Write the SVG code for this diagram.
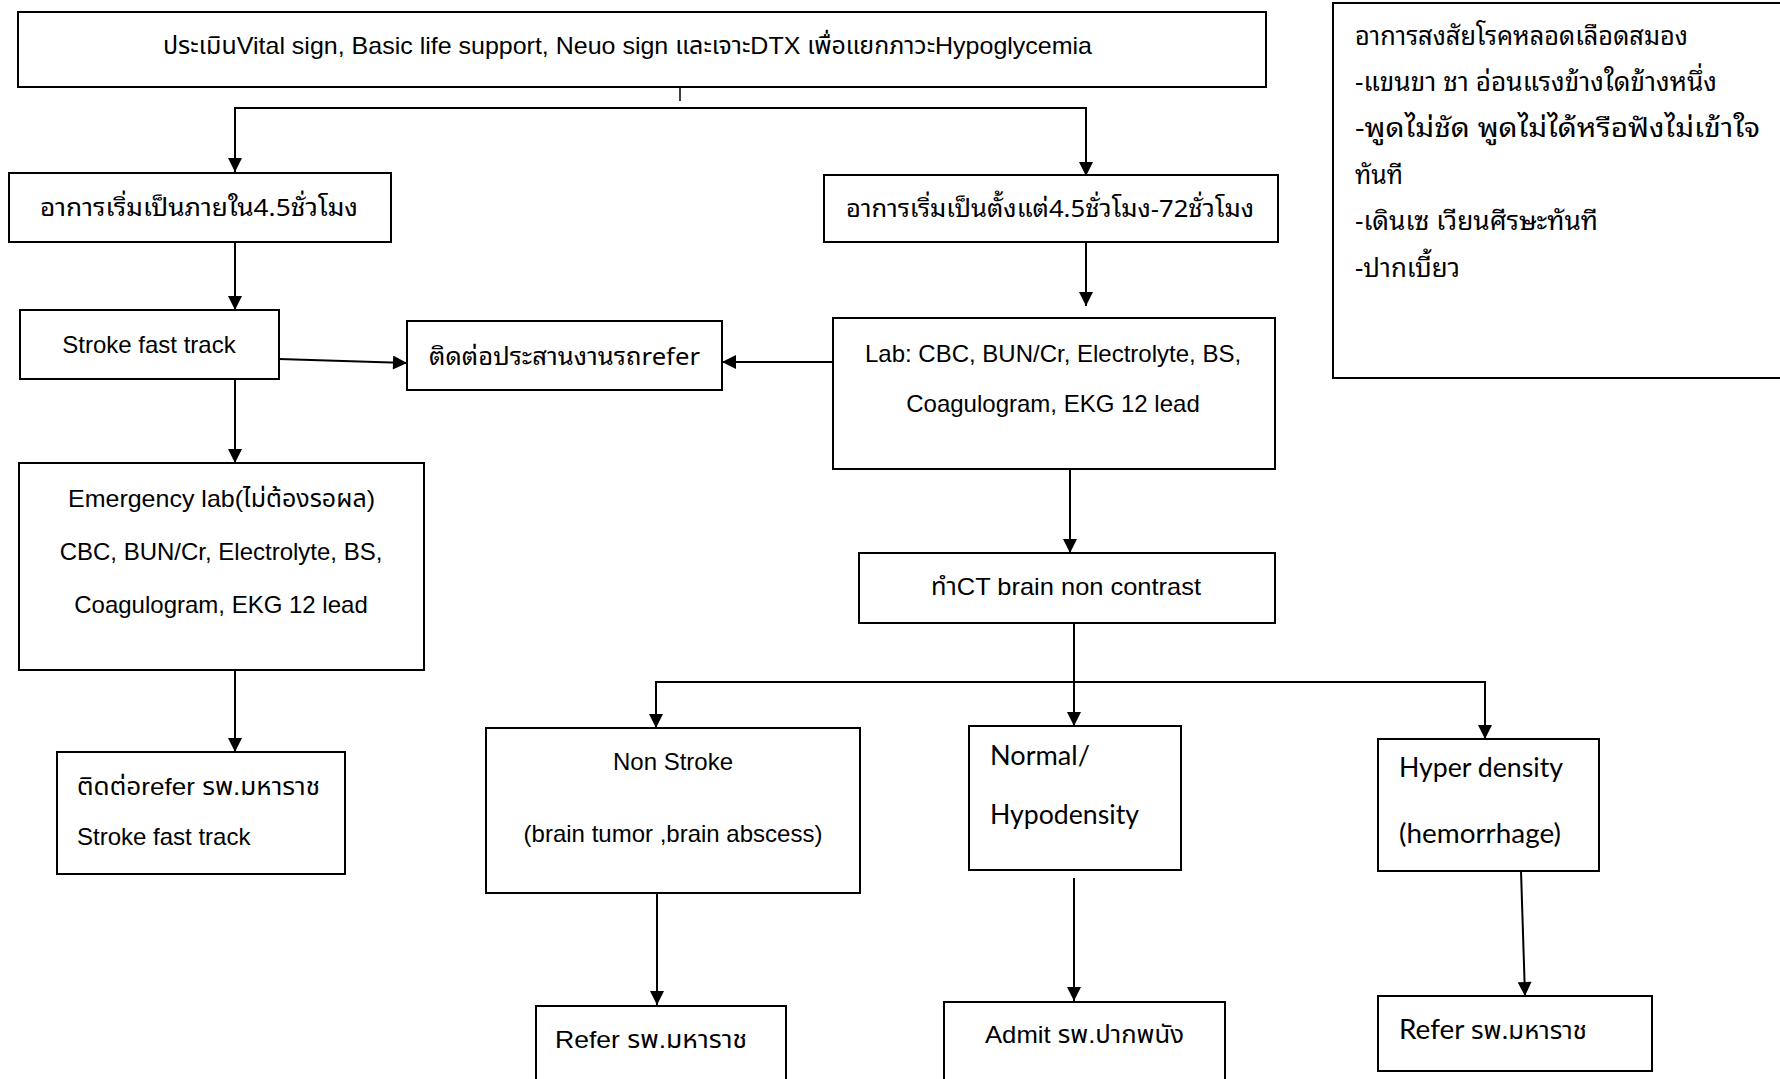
<svg xmlns="http://www.w3.org/2000/svg" width="1780" height="1079" viewBox="0 0 1780 1079">
<style>
.box{fill:#fff;stroke:#000;stroke-width:2}
.con{fill:none;stroke:#000;stroke-width:2}
.t{font-family:"Liberation Sans","Noto Sans Thai","Noto Sans",sans-serif;font-size:24px;fill:#000}
.c{text-anchor:middle}
.th{font-family:"Noto Sans Thai Looped","Noto Sans Thai","Liberation Sans",sans-serif;font-size:24px;fill:#000}
.lg{font-family:"Noto Sans Thai Looped","Noto Sans Thai","Liberation Sans",sans-serif;font-size:26px;fill:#000}
.cal{font-family:Lato,"Noto Sans Thai","Liberation Sans",sans-serif;font-size:26px;fill:#000}
</style>
<defs>
<marker id="ah" viewBox="0 0 10 10" refX="10" refY="5" markerWidth="15" markerHeight="14" markerUnits="userSpaceOnUse" orient="auto">
<path d="M0,0 L10,5 L0,10 z" fill="#000"/>
</marker>
</defs>
<rect width="1780" height="1079" fill="#fff"/>
<g id="connectors">
<line class="con" x1="680" y1="86" x2="680" y2="101" style="stroke-width:1.5"/>
<path class="con" d="M680,108 H235 V172" marker-end="url(#ah)"/>
<path class="con" d="M680,108 H1086 V176" marker-end="url(#ah)"/>
<line class="con" x1="235" y1="242" x2="235" y2="310" marker-end="url(#ah)"/>
<line class="con" x1="279" y1="359" x2="407" y2="363" marker-end="url(#ah)"/>
<line class="con" x1="833" y1="362" x2="722" y2="362" marker-end="url(#ah)"/>
<line class="con" x1="1086" y1="242" x2="1086" y2="306" marker-end="url(#ah)"/>
<line class="con" x1="235" y1="379" x2="235" y2="463" marker-end="url(#ah)"/>
<line class="con" x1="1070" y1="469" x2="1070" y2="553" marker-end="url(#ah)"/>
<line class="con" x1="1074" y1="623" x2="1074" y2="726" marker-end="url(#ah)"/>
<path class="con" d="M1074,682 H656 V728" marker-end="url(#ah)"/>
<path class="con" d="M1074,682 H1485 V739" marker-end="url(#ah)"/>
<line class="con" x1="235" y1="670" x2="235" y2="752" marker-end="url(#ah)"/>
<line class="con" x1="657" y1="886" x2="657" y2="1005" marker-end="url(#ah)"/>
<line class="con" x1="1074" y1="878" x2="1074" y2="1001" marker-end="url(#ah)"/>
<line class="con" x1="1521" y1="871" x2="1525" y2="996" marker-end="url(#ah)"/>
</g>
<g id="n-assess">
<rect class="box" x="18" y="12" width="1248" height="75"/>
<text class="t" x="163" y="54" textLength="929" lengthAdjust="spacingAndGlyphs">ประเมินVital sign, Basic life support, Neuo sign และเจาะDTX เพื่อแยกภาวะHypoglycemia</text>
</g>
<g id="n-legend">
<rect class="box" x="1333" y="3" width="460" height="375"/>
<text class="lg" x="1355" y="45" textLength="333" lengthAdjust="spacingAndGlyphs">อาการสงสัยโรคหลอดเลือดสมอง</text>
<text class="lg" x="1355" y="91" textLength="362" lengthAdjust="spacingAndGlyphs">-แขนขา ชา อ่อนแรงข้างใดข้างหนึ่ง</text>
<text class="lg" x="1355" y="137" textLength="405" lengthAdjust="spacingAndGlyphs">-พูดไม่ชัด พูดไม่ได้หรือฟังไม่เข้าใจ</text>
<text class="lg" x="1355" y="184" textLength="48" lengthAdjust="spacingAndGlyphs">ทันที</text>
<text class="lg" x="1355" y="230" textLength="243" lengthAdjust="spacingAndGlyphs">-เดินเซ เวียนศีรษะทันที</text>
<text class="lg" x="1355" y="277" textLength="105" lengthAdjust="spacingAndGlyphs">-ปากเบี้ยว</text>
</g>
<g id="n-within">
<rect class="box" x="9" y="173" width="382" height="69"/>
<text class="th" x="40" y="216" textLength="318" lengthAdjust="spacingAndGlyphs">อาการเริ่มเป็นภายใน4.5ชั่วโมง</text>
</g>
<g id="n-after">
<rect class="box" x="824" y="175" width="454" height="67"/>
<text class="th" x="846" y="217" textLength="408" lengthAdjust="spacingAndGlyphs">อาการเริ่มเป็นตั้งแต่4.5ชั่วโมง-72ชั่วโมง</text>
</g>
<g id="n-sft">
<rect class="box" x="20" y="310" width="259" height="69"/>
<text class="t c" x="149" y="353">Stroke fast track</text>
</g>
<g id="n-contact">
<rect class="box" x="407" y="321" width="315" height="69"/>
<text class="th" x="429" y="365" textLength="271" lengthAdjust="spacingAndGlyphs">ติดต่อประสานงานรถrefer</text>
</g>
<g id="n-lab">
<rect class="box" x="833" y="318" width="442" height="151"/>
<text class="t c" x="1053" y="362">Lab: CBC, BUN/Cr, Electrolyte, BS,</text>
<text class="t c" x="1053" y="412">Coagulogram, EKG 12 lead</text>
</g>
<g id="n-emlab">
<rect class="box" x="19" y="463" width="405" height="207"/>
<text class="t" x="68" y="507" textLength="307" lengthAdjust="spacingAndGlyphs">Emergency lab(ไม่ต้องรอผล)</text>
<text class="t c" x="221" y="560">CBC, BUN/Cr, Electrolyte, BS,</text>
<text class="t c" x="221" y="613">Coagulogram, EKG 12 lead</text>
</g>
<g id="n-ct">
<rect class="box" x="859" y="553" width="416" height="70"/>
<text class="t" x="931" y="595" textLength="270" lengthAdjust="spacingAndGlyphs">ทำCT brain non contrast</text>
</g>
<g id="n-refer1">
<rect class="box" x="57" y="752" width="288" height="122"/>
<text class="t" x="77" y="795" textLength="243" lengthAdjust="spacingAndGlyphs">ติดต่อrefer รพ.มหาราช</text>
<text class="t" x="77" y="845">Stroke fast track</text>
</g>
<g id="n-nonstroke">
<rect class="box" x="486" y="728" width="374" height="165"/>
<text class="t c" x="673" y="770">Non Stroke</text>
<text class="t c" x="673" y="842">(brain tumor ,brain abscess)</text>
</g>
<g id="n-normal">
<rect class="box" x="969" y="726" width="212" height="144"/>
<text class="cal" x="990" y="765" textLength="100" lengthAdjust="spacingAndGlyphs">Normal/</text>
<text class="cal" x="990" y="824" textLength="149" lengthAdjust="spacingAndGlyphs">Hypodensity</text>
</g>
<g id="n-hyper">
<rect class="box" x="1378" y="739" width="221" height="132"/>
<text class="cal" x="1399" y="777" textLength="164" lengthAdjust="spacingAndGlyphs">Hyper density</text>
<text class="cal" x="1399" y="843" textLength="162" lengthAdjust="spacingAndGlyphs">(hemorrhage)</text>
</g>
<g id="n-refer2">
<rect class="box" x="536" y="1006" width="250" height="100"/>
<text class="t" x="555" y="1048" textLength="192" lengthAdjust="spacingAndGlyphs">Refer รพ.มหาราช</text>
</g>
<g id="n-admit">
<rect class="box" x="944" y="1002" width="281" height="100"/>
<text class="t" x="985" y="1043" textLength="199" lengthAdjust="spacingAndGlyphs">Admit รพ.ปากพนัง</text>
</g>
<g id="n-refer3">
<rect class="box" x="1378" y="996" width="274" height="75"/>
<text class="cal" x="1399" y="1039" textLength="188" lengthAdjust="spacingAndGlyphs">Refer <tspan style="font-family:'Noto Sans Thai','Liberation Sans',sans-serif;font-size:24px">รพ.มหาราช</tspan></text>
</g>
</svg>
